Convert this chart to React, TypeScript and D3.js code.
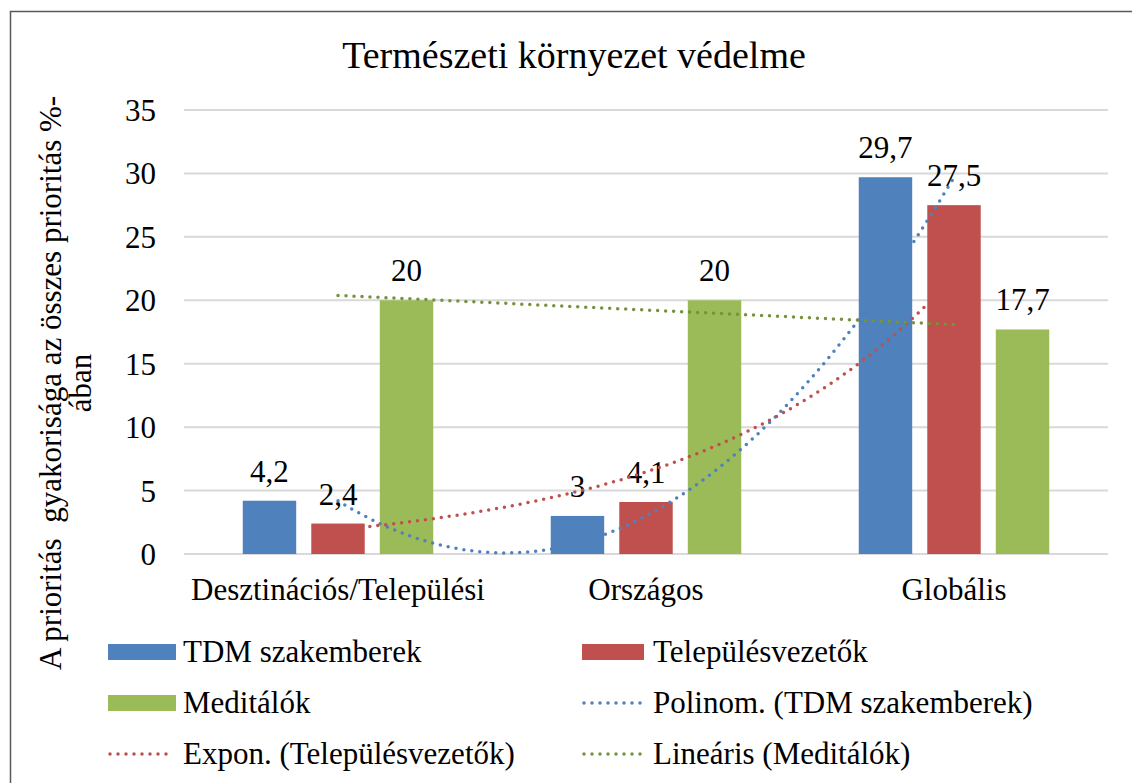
import React, { useRef, useEffect } from "react";
import * as d3 from "d3";

const categories = ["Desztinációs/Települési", "Országos", "Globális"];
const seriesNames = ["TDM szakemberek", "Településvezetők", "Meditálók"];
const tdmValues = [4.2, 3, 29.7];
const telepValues = [2.4, 4.1, 27.5];
const meditValues = [20, 20, 17.7];
const yTicks = [0, 5, 10, 15, 20, 25, 30, 35];

const colors = ["#4F81BD", "#C0504D", "#9BBB59"];
const trendColors = ["#4F81BD", "#C0504D", "#76923C"];
const FONT = "'Liberation Serif', 'Times New Roman', serif";

// least squares polynomial fit, returns coefficients [c0, c1, c2...]
function polyfit(xs: number[], ys: number[], deg: number) {
  const n = deg + 1;
  const A: number[][] = [];
  for (let r = 0; r < n; r++) {
    const row: number[] = [];
    for (let c = 0; c < n; c++) row.push(d3.sum(xs, (x) => Math.pow(x, r + c)));
    row.push(d3.sum(xs, (x, i) => ys[i] * Math.pow(x, r)));
    A.push(row);
  }
  for (let i = 0; i < n; i++) {
    for (let k = i + 1; k < n; k++) {
      const f = A[k][i] / A[i][i];
      for (let j = i; j <= n; j++) A[k][j] -= f * A[i][j];
    }
  }
  const coef = new Array(n).fill(0);
  for (let i = n - 1; i >= 0; i--) {
    let s = A[i][n];
    for (let j = i + 1; j < n; j++) s -= A[i][j] * coef[j];
    coef[i] = s / A[i][i];
  }
  return coef;
}

export default function App() {
  const ref = useRef<SVGSVGElement>(null);
  const width = 1132;
  const height = 783;

  useEffect(() => {
    const svg = d3.select(ref.current);
    svg.selectAll("*").remove();

    const left = 184, right = 1108, top = 110, bottom = 554;

    const x0 = d3.scaleBand().domain(categories).range([left, right]);
    const x1 = d3.scaleBand().domain(seriesNames)
      .range([58.75, 249.25]).paddingInner(0.22).paddingOuter(0);
    const y = d3.scaleLinear().domain([0, 35]).range([bottom, top]);

    // outer border (image is cropped on right/bottom)
    svg.append("rect")
      .attr("x", 10.5).attr("y", 11.5)
      .attr("width", 1140).attr("height", 800)
      .attr("fill", "white").attr("stroke", "#595959").attr("stroke-width", 1.5);

    svg.append("text")
      .attr("x", 574).attr("y", 68)
      .attr("text-anchor", "middle")
      .attr("font-family", FONT).attr("font-size", 38)
      .text("Természeti környezet védelme");

    // gridlines + tick labels
    yTicks.forEach((t) => {
      svg.append("line")
        .attr("x1", left).attr("x2", right)
        .attr("y1", y(t)).attr("y2", y(t))
        .attr("stroke", "#D9D9D9").attr("stroke-width", 2);
      svg.append("text")
        .attr("x", 156).attr("y", y(t) + 11)
        .attr("text-anchor", "end")
        .attr("font-family", FONT).attr("font-size", 31)
        .text(t);
    });

    // y axis title
    const yt = svg.append("text")
      .attr("transform", "translate(0,383) rotate(-90)")
      .attr("text-anchor", "middle")
      .attr("font-family", FONT).attr("font-size", 31)
      .style("white-space", "pre");
    yt.append("tspan").attr("x", 0).attr("y", 61).text("A prioritás  gyakorisága az összes prioritás %-");
    yt.append("tspan").attr("x", 0).attr("y", 91).text("ában");

    // bars
    const allValues = [tdmValues, telepValues, meditValues];
    allValues.forEach((vals, si) => {
      const g = svg.append("g");
      g.selectAll("rect")
        .data(vals)
        .join("rect")
        .attr("x", (d, i) => x0(categories[i])! + x1(seriesNames[si])!)
        .attr("y", (d) => y(d))
        .attr("width", x1.bandwidth())
        .attr("height", (d) => y(0) - y(d))
        .attr("fill", colors[si]);
      g.selectAll("text")
        .data(vals)
        .join("text")
        .attr("x", (d, i) => x0(categories[i])! + x1(seriesNames[si])! + x1.bandwidth() / 2)
        .attr("y", (d) => y(d) - 19)
        .attr("text-anchor", "middle")
        .attr("font-family", FONT).attr("font-size", 31)
        .text((d) => String(d).replace(".", ","));
    });

    // category labels
    categories.forEach((c) => {
      svg.append("text")
        .attr("x", x0(c)! + x0.bandwidth() / 2).attr("y", 600)
        .attr("text-anchor", "middle")
        .attr("font-family", FONT).attr("font-size", 31)
        .text(c);
    });

    // trendlines, category index 1..3 mapped to band centres
    const xs = [1, 2, 3];
    const cx = d3.scaleLinear().domain([1, 3])
      .range([x0(categories[0])! + x0.bandwidth() / 2, x0(categories[2])! + x0.bandwidth() / 2]);
    const samples = d3.range(0, 101).map((i) => 1 + (2 * i) / 100);

    const poly = polyfit(xs, tdmValues, 2);
    const expFit = polyfit(xs, telepValues.map(Math.log), 1);
    const linFit = polyfit(xs, meditValues, 1);
    const trendFns = [
      (t: number) => poly[0] + poly[1] * t + poly[2] * t * t,
      (t: number) => Math.exp(expFit[0] + expFit[1] * t),
      (t: number) => linFit[0] + linFit[1] * t,
    ];
    const line = d3.line<number>().x((t) => cx(t));
    trendFns.forEach((fn, i) => {
      svg.append("path")
        .datum(samples)
        .attr("fill", "none")
        .attr("stroke", trendColors[i])
        .attr("stroke-width", 3.5)
        .attr("stroke-linecap", "round")
        .attr("stroke-dasharray", "0 8")
        .attr("d", line.y((t) => y(fn(t))));
    });

    // legend
    const legendItems = [
      { label: "TDM szakemberek", color: colors[0], kind: "bar", col: 0, row: 0 },
      { label: "Településvezetők", color: colors[1], kind: "bar", col: 1, row: 0 },
      { label: "Meditálók", color: colors[2], kind: "bar", col: 0, row: 1 },
      { label: "Polinom. (TDM szakemberek)", color: trendColors[0], kind: "line", col: 1, row: 1 },
      { label: "Expon. (Településvezetők)", color: trendColors[1], kind: "line", col: 0, row: 2 },
      { label: "Lineáris (Meditálók)", color: trendColors[2], kind: "line", col: 1, row: 2 },
    ];
    const colX = [108, 582];
    const rowY = [652, 703, 754];
    legendItems.forEach((it) => {
      const lx = colX[it.col];
      const ly = rowY[it.row];
      const sw = it.col === 0 ? 68 : 62;
      if (it.kind === "bar") {
        svg.append("rect")
          .attr("x", lx).attr("y", ly - 8)
          .attr("width", sw).attr("height", 16)
          .attr("fill", it.color);
      } else {
        svg.append("line")
          .attr("x1", lx + 2).attr("x2", lx + sw - 2)
          .attr("y1", ly).attr("y2", ly)
          .attr("stroke", it.color).attr("stroke-width", 3.5)
          .attr("stroke-linecap", "round")
          .attr("stroke-dasharray", "0 8");
      }
      svg.append("text")
        .attr("x", it.col === 0 ? 183 : 653).attr("y", ly + 10)
        .attr("font-family", FONT).attr("font-size", 31)
        .text(it.label);
    });
  }, []);

  return (
    <svg
      ref={ref}
      width={width}
      height={height}
      style={{ position: "absolute", left: 0, top: 0 }}
    ></svg>
  );
}
